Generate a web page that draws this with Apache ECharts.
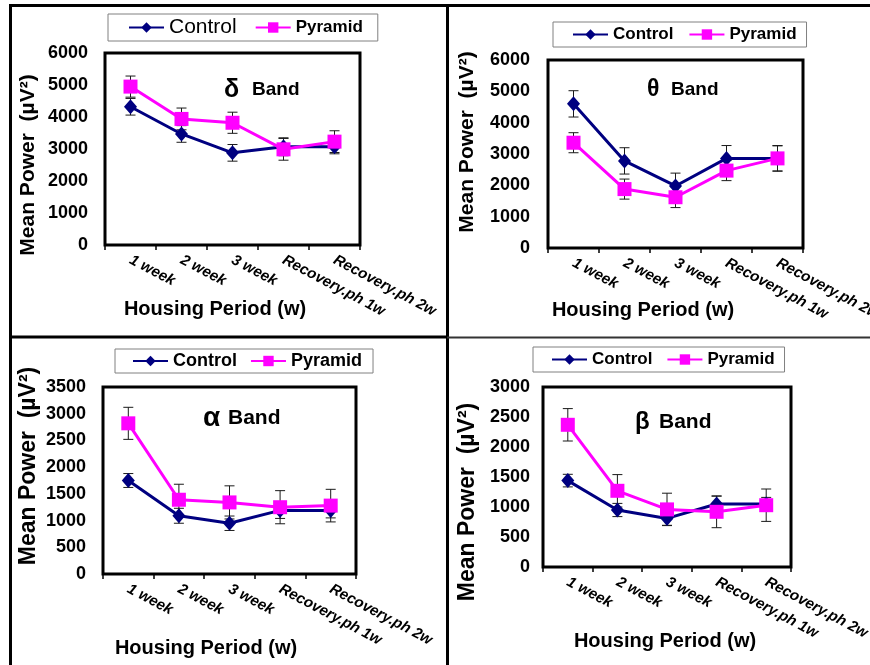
<!DOCTYPE html>
<html>
<head>
<meta charset="utf-8">
<script src="https://cdn.jsdelivr.net/npm/echarts@6/dist/echarts.min.js"></script>
<style>
  html, body { margin: 0; padding: 0; background: #fff; }
  #chart { width: 870px; height: 665px; }
</style>
</head>
<body>
<div id="chart"></div>
<script>
// Housing periods on the x axis
const categories = ['1 week', '2 week', '3 week', 'Recovery.ph 1w', 'Recovery.ph 2w'];

// Delta band mean power (µV²) and error
const deltaControl = [4320, 3470, 2880, 3070, 3070];
const deltaControlErr = [260, 260, 260, 280, 220];
const deltaPyramid = [4950, 3940, 3820, 2990, 3230];
const deltaPyramidErr = [330, 340, 330, 340, 340];

// Theta band
const thetaControl = [4600, 2780, 1980, 2860, 2860];
const thetaControlErr = [420, 420, 410, 410, 410];
const thetaPyramid = [3360, 1880, 1620, 2470, 2860];
const thetaPyramidErr = [320, 320, 330, 320, 400];

// Alpha band
const alphaControl = [1750, 1090, 950, 1190, 1190];
const alphaControlErr = [130, 140, 135, 150, 140];
const alphaPyramid = [2820, 1390, 1340, 1250, 1280];
const alphaPyramidErr = [300, 290, 310, 310, 305];

// Beta band
const betaControl = [1440, 950, 810, 1050, 1050];
const betaControlErr = [105, 110, 115, 130, 110];
const betaPyramid = [2370, 1270, 960, 920, 1030];
const betaPyramidErr = [270, 270, 270, 265, 270];

// y axis ranges per band
const yMax = [6000, 6000, 3500, 3000];
const yStep = [1000, 1000, 500, 500];

const FONT = 'Arial, "Liberation Sans", sans-serif';
const NAVY = '#000080';
const MAGENTA = '#ff00ff';

const panels = [
  { c: deltaControl, ce: deltaControlErr, p: deltaPyramid, pe: deltaPyramidErr,
    grid: { left: 105, top: 53, width: 255, height: 192 }, labelMargin: 17 },
  { c: thetaControl, ce: thetaControlErr, p: thetaPyramid, pe: thetaPyramidErr,
    grid: { left: 548, top: 60, width: 255, height: 188 }, labelMargin: 18 },
  { c: alphaControl, ce: alphaControlErr, p: alphaPyramid, pe: alphaPyramidErr,
    grid: { left: 103, top: 387, width: 253, height: 187 }, labelMargin: 17 },
  { c: betaControl, ce: betaControlErr, p: betaPyramid, pe: betaPyramidErr,
    grid: { left: 543, top: 387, width: 248, height: 180 }, labelMargin: 13 }
];

// vertical error bar with caps
function errorBar(params, api) {
  const x = api.value(0), v = api.value(1), e = api.value(2);
  const top = api.coord([x, v + e]);
  const bot = api.coord([x, v - e]);
  const hw = 5;
  const st = { stroke: '#1a1a1a', lineWidth: 1 };
  return {
    type: 'group',
    children: [
      { type: 'line', shape: { x1: top[0], y1: top[1], x2: bot[0], y2: bot[1] }, style: st },
      { type: 'line', shape: { x1: top[0] - hw, y1: top[1], x2: top[0] + hw, y2: top[1] }, style: st },
      { type: 'line', shape: { x1: bot[0] - hw, y1: bot[1], x2: bot[0] + hw, y2: bot[1] }, style: st }
    ]
  };
}

const grids = [], xAxes = [], yAxes = [], series = [];
panels.forEach((pn, i) => {
  grids.push(Object.assign({ show: true, borderColor: '#000', borderWidth: 3, backgroundColor: 'transparent',
                             containLabel: false, outerBoundsMode: 'none' }, pn.grid));
  xAxes.push({
    type: 'category', gridIndex: i, data: categories,
    axisLine: { show: false },
    axisTick: { show: true, length: 5, lineStyle: { color: '#000', width: 1.5 } },
    axisLabel: { interval: 0, rotate: -28, margin: 14, color: '#000', fontFamily: FONT,
                 fontSize: 15, fontWeight: 'bold', fontStyle: 'italic', hideOverlap: false },
    splitLine: { show: false }
  });
  yAxes.push({
    type: 'value', gridIndex: i, min: 0, max: yMax[i], interval: yStep[i],
    axisLine: { show: false }, axisTick: { show: false }, splitLine: { show: false },
    axisLabel: { margin: pn.labelMargin, color: '#000', fontFamily: FONT, fontSize: 18, fontWeight: 'bold',
                 formatter: (v) => String(v) }
  });
  series.push({
    type: 'custom', xAxisIndex: i, yAxisIndex: i, z: 1,
    renderItem: errorBar, encode: { x: 0, y: 1 },
    data: pn.c.map((v, k) => [k, v, pn.ce[k]])
  });
  series.push({
    type: 'custom', xAxisIndex: i, yAxisIndex: i, z: 1,
    renderItem: errorBar, encode: { x: 0, y: 1 },
    data: pn.p.map((v, k) => [k, v, pn.pe[k]])
  });
  series.push({
    name: 'Control', type: 'line', xAxisIndex: i, yAxisIndex: i, z: 3,
    data: pn.c, symbol: 'diamond', symbolSize: [13, 15], showAllSymbol: true,
    lineStyle: { color: NAVY, width: 3 }, itemStyle: { color: NAVY },
    emphasis: { disabled: true }, animation: false
  });
  series.push({
    name: 'Pyramid', type: 'line', xAxisIndex: i, yAxisIndex: i, z: 4,
    data: pn.p, symbol: 'rect', symbolSize: 14, showAllSymbol: true,
    lineStyle: { color: MAGENTA, width: 3 }, itemStyle: { color: MAGENTA },
    emphasis: { disabled: true }, animation: false
  });
});

function legendBox(left, top, pad, gap, ctrlStyle, pyrStyle) {
  return {
    left: left, top: top, orient: 'horizontal', padding: pad, itemGap: gap,
    itemWidth: 35, itemHeight: 13, borderColor: '#808080', borderWidth: 1,
    selectedMode: false,
    data: [
      { name: 'Control', textStyle: Object.assign({ color: '#000', fontFamily: FONT }, ctrlStyle) },
      { name: 'Pyramid', textStyle: Object.assign({ color: '#000', fontFamily: FONT }, pyrStyle) }
    ]
  };
}

const legends = [
  legendBox(108, 14, [3, 15, 3, 20], 18, { fontSize: 21, fontWeight: 'normal' }, { fontSize: 17, fontWeight: 'bold' }),
  legendBox(553, 22, [4, 10, 4, 19], 15, { fontSize: 17, fontWeight: 'bold' }, { fontSize: 17, fontWeight: 'bold' }),
  legendBox(115, 349, [3, 11, 3, 17], 13, { fontSize: 18, fontWeight: 'bold' }, { fontSize: 18, fontWeight: 'bold' }),
  legendBox(533, 347, [4, 10, 4, 18], 14, { fontSize: 17, fontWeight: 'bold' }, { fontSize: 17, fontWeight: 'bold' })
];

// axis titles, band labels and panel frame
const yTitles = [[28.5, 165, 21], [467, 142, 21], [29, 466, 23], [468, 502, 23]];
const xTitles = [[215, 309, 20], [643, 310, 20], [206, 648, 20], [665, 641, 20]];
const bands = [
  ['δ', 224, 25, 252, 19, 90],
  ['θ', 647, 23, 671, 19, 90],
  ['α', 203, 28, 228, 21, 418],
  ['β', 635, 24, 659, 21, 422]
];

const graphic = [];
yTitles.forEach(([x, y, fs]) => graphic.push({
  type: 'text', x: x, y: y, rotation: Math.PI / 2,
  style: { text: 'Mean Power  (µV²)', fill: '#000', font: `bold ${fs}px ${FONT}`, align: 'center', verticalAlign: 'middle' }
}));
xTitles.forEach(([x, y, fs]) => graphic.push({
  type: 'text', x: x, y: y,
  style: { text: 'Housing Period (w)', fill: '#000', font: `bold ${fs}px ${FONT}`, align: 'center', verticalAlign: 'middle' }
}));
bands.forEach(([g, gx, gfs, bx, bfs, y]) => {
  graphic.push({ type: 'text', x: gx, y: y,
    style: { text: g, fill: '#000', font: `bold ${gfs}px ${FONT}`, align: 'left', verticalAlign: 'middle' } });
  graphic.push({ type: 'text', x: bx, y: y,
    style: { text: 'Band', fill: '#000', font: `bold ${bfs}px ${FONT}`, align: 'left', verticalAlign: 'middle' } });
});
const frame = { stroke: '#000', lineWidth: 3 };
graphic.push({ type: 'line', shape: { x1: 9, y1: 5.5, x2: 870, y2: 5.5 }, style: frame });
graphic.push({ type: 'line', shape: { x1: 10.5, y1: 4, x2: 10.5, y2: 665 }, style: frame });
graphic.push({ type: 'line', shape: { x1: 447.5, y1: 4, x2: 447.5, y2: 665 }, style: frame });
graphic.push({ type: 'line', shape: { x1: 9, y1: 337, x2: 447, y2: 337 }, style: frame });
graphic.push({ type: 'line', shape: { x1: 447, y1: 337.5, x2: 870, y2: 337.5 }, style: { stroke: '#333', lineWidth: 2 } });

const chart = echarts.init(document.getElementById('chart'), null, { renderer: 'canvas' });
chart.setOption({
  animation: false,
  backgroundColor: '#fff',
  grid: grids,
  xAxis: xAxes,
  yAxis: yAxes,
  legend: legends,
  series: series,
  graphic: graphic
});
</script>
</body>
</html>
